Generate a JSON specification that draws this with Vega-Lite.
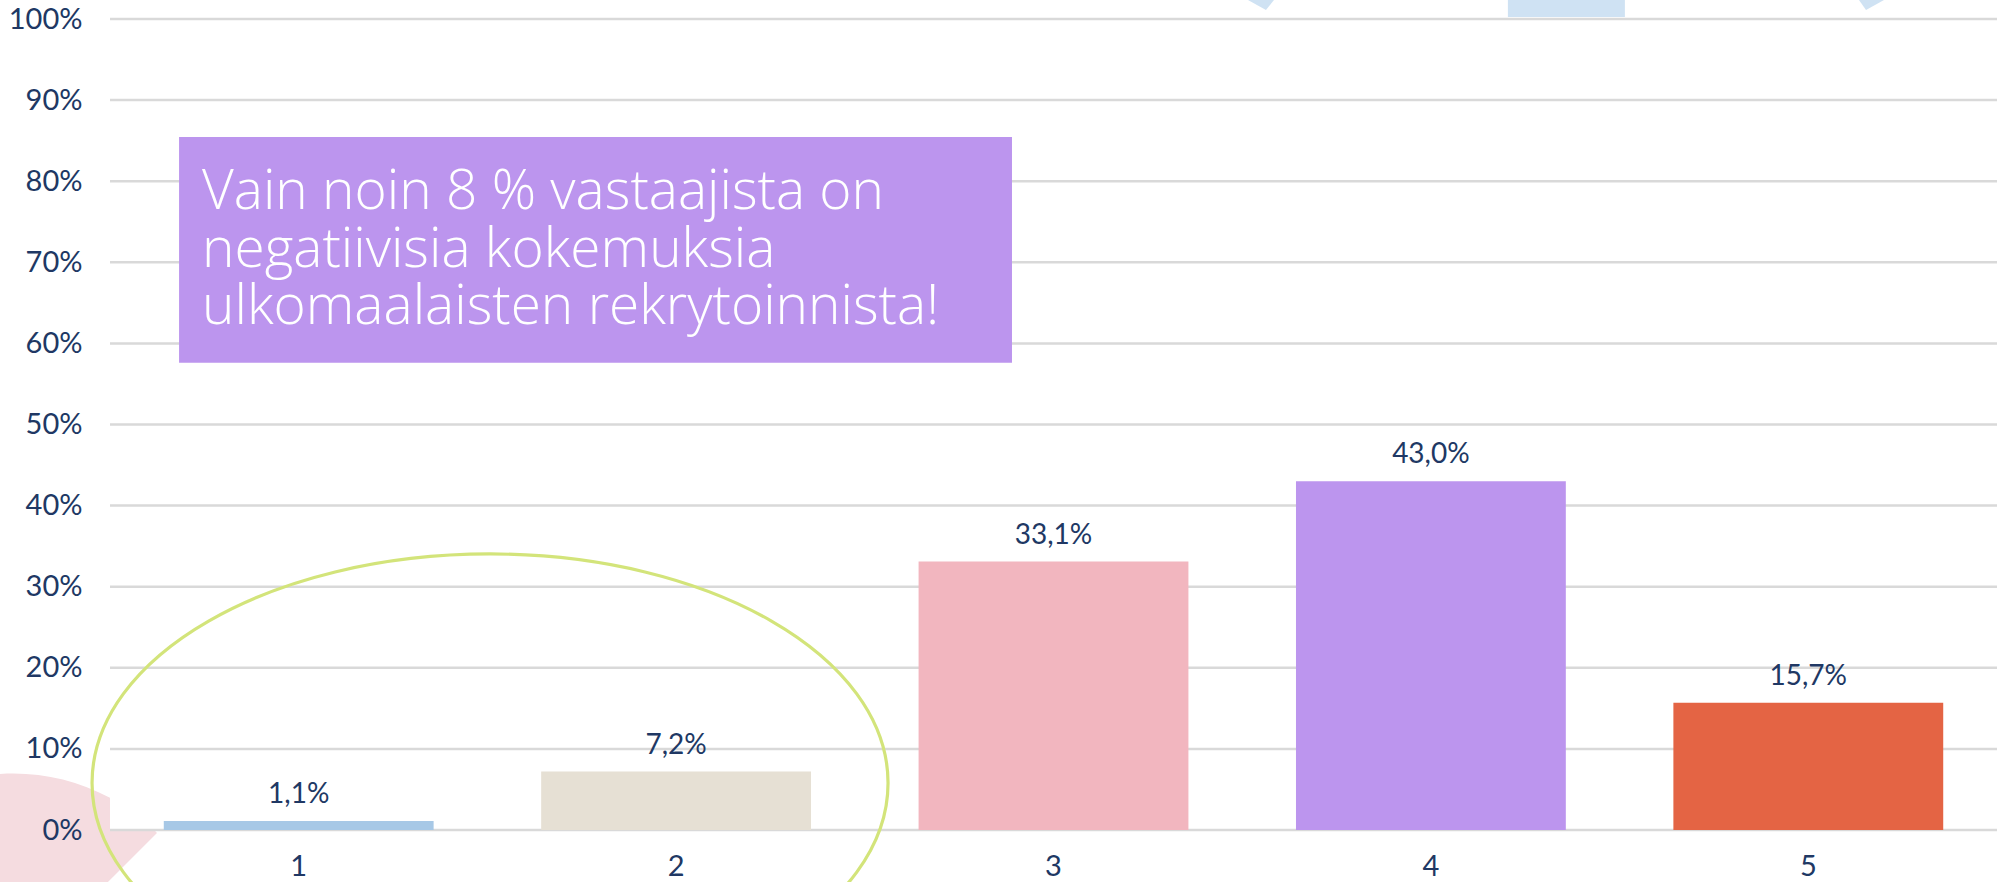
{
  "$schema": "https://vega.github.io/schema/vega-lite/v6.json",
  "width": 1887,
  "height": 811,
  "autosize": "none",
  "padding": {"left": 110, "top": 19, "right": 0, "bottom": 52},
  "background": "white",
  "config": {
    "view": {"stroke": null},
    "font": "Lato",
    "locale": {"number": {"decimal": ",", "thousands": "\u00a0", "grouping": [3], "currency": ["", "\u00a0€"]}}
  },
  "datasets": {
    "bars": [
      {"cat": "1", "value": 0.011},
      {"cat": "2", "value": 0.072},
      {"cat": "3", "value": 0.331},
      {"cat": "4", "value": 0.430},
      {"cat": "5", "value": 0.157}
    ],
    "grid": [
      {"v": 0}, {"v": 0.1}, {"v": 0.2}, {"v": 0.3}, {"v": 0.4}, {"v": 0.5},
      {"v": 0.6}, {"v": 0.7}, {"v": 0.8}, {"v": 0.9}, {"v": 1.0}
    ],
    "pink": [{"x": -0.2557, "y": -0.1806}],
    "topRect": [{"x": 3.704, "x2": 4.014, "y": 1.0025, "y2": 1.03}],
    "triL": [{"x": 3.063, "y": 1.0111}],
    "triR": [{"x": 4.6529, "y": 1.0111}],
    "box": [{"x": 0.183, "x2": 2.39, "y": 0.576, "y2": 0.8545}],
    "note": [{"x": 0.2438, "y": 0.7657, "text": "Vain noin 8 % vastaajista on\nnegatiivisia kokemuksia\nulkomaalaisten rekrytoinnista!"}],
    "ellipse": [{"x": 1.007, "y": 0.058}]
  },
  "layer": [
    {
      "data": {"name": "pink"},
      "mark": {"type": "point", "shape": "M0,0L143.5,-143.5L141.6,-145.5L96.5,-145.5L96.5,-178.6A203,203 0 0,0 -203,0Z", "size": 4, "filled": true, "fill": "#F5DCE0", "strokeWidth": 0, "opacity": 1},
      "encoding": {
        "x": {"field": "x", "type": "quantitative", "scale": {"domain": [0, 5], "nice": false, "zero": false}, "axis": null},
        "y": {"field": "y", "type": "quantitative", "scale": {"domain": [0, 1], "nice": false, "zero": false}, "axis": {"title": null, "format": ".0%", "values": [0, 0.1, 0.2, 0.3, 0.4, 0.5, 0.6, 0.7, 0.8, 0.9, 1], "grid": false, "domain": false, "ticks": false, "labelPadding": 28, "labelFontSize": 29, "labelColor": "#203864", "labelFont": "Lato", "zindex": 1}}
      }
    },
    {
      "data": {"name": "topRect"},
      "mark": {"type": "rect", "fill": "#CFE2F3"},
      "encoding": {
        "x": {"field": "x", "type": "quantitative", "scale": {"domain": [0, 5], "nice": false, "zero": false}, "axis": null},
        "x2": {"field": "x2"},
        "y": {"field": "y", "type": "quantitative", "title": null},
        "y2": {"field": "y2"}
      }
    },
    {
      "data": {"name": "triL"},
      "mark": {"type": "point", "shape": "M0,0L-36,-20L16,-20Z", "size": 4, "filled": true, "fill": "#CFE2F3", "strokeWidth": 0, "opacity": 1},
      "encoding": {
        "x": {"field": "x", "type": "quantitative", "scale": {"domain": [0, 5], "nice": false, "zero": false}, "axis": null},
        "y": {"field": "y", "type": "quantitative", "title": null}
      }
    },
    {
      "data": {"name": "triR"},
      "mark": {"type": "point", "shape": "M0,0L-14,-20L36,-20Z", "size": 4, "filled": true, "fill": "#CFE2F3", "strokeWidth": 0, "opacity": 1},
      "encoding": {
        "x": {"field": "x", "type": "quantitative", "scale": {"domain": [0, 5], "nice": false, "zero": false}, "axis": null},
        "y": {"field": "y", "type": "quantitative", "title": null}
      }
    },
    {
      "data": {"name": "grid"},
      "mark": {"type": "rule", "stroke": "#D9D9D9", "strokeWidth": 2.5},
      "encoding": {
        "y": {"field": "v", "type": "quantitative", "title": null}
      }
    },
    {
      "data": {"name": "bars"},
      "mark": {"type": "bar"},
      "encoding": {
        "x": {"field": "cat", "type": "ordinal", "sort": null, "scale": {"paddingInner": 0.285, "paddingOuter": 0.1425},
              "axis": {"title": null, "labelAngle": 0, "domain": false, "ticks": false, "grid": false, "labelPadding": 22, "labelFontSize": 29, "labelColor": "#203864", "labelFont": "Lato"}},
        "y": {"field": "value", "type": "quantitative", "title": null},
        "color": {"field": "cat", "type": "nominal", "legend": null,
                  "scale": {"domain": ["1", "2", "3", "4", "5"], "range": ["#A7C8E6", "#E6E0D4", "#F2B6BF", "#BC95EE", "#E46444"]}}
      }
    },
    {
      "data": {"name": "bars"},
      "mark": {"type": "text", "dy": -18, "baseline": "alphabetic", "align": "center", "fontSize": 28, "color": "#203864", "font": "Lato"},
      "encoding": {
        "x": {"field": "cat", "type": "ordinal", "sort": null, "scale": {"paddingInner": 0.285, "paddingOuter": 0.1425}, "axis": null},
        "y": {"field": "value", "type": "quantitative", "title": null},
        "text": {"field": "value", "type": "quantitative", "format": ".1%"}
      }
    },
    {
      "data": {"name": "box"},
      "mark": {"type": "rect", "fill": "#BC95EE"},
      "encoding": {
        "x": {"field": "x", "type": "quantitative", "scale": {"domain": [0, 5], "nice": false, "zero": false}, "axis": null},
        "x2": {"field": "x2"},
        "y": {"field": "y", "type": "quantitative", "title": null},
        "y2": {"field": "y2"}
      }
    },
    {
      "data": {"name": "note"},
      "mark": {"type": "text", "align": "left", "baseline": "alphabetic", "fontSize": 55, "fontWeight": 300, "lineHeight": 57.5, "lineBreak": "\n", "color": "white", "font": "Open Sans"},
      "encoding": {
        "x": {"field": "x", "type": "quantitative", "scale": {"domain": [0, 5], "nice": false, "zero": false}, "axis": null},
        "y": {"field": "y", "type": "quantitative", "title": null},
        "text": {"field": "text", "type": "nominal"}
      }
    },
    {
      "data": {"name": "ellipse"},
      "mark": {"type": "point", "shape": "M-398,0A398,229 0 1,0 398,0A398,229 0 1,0 -398,0Z", "size": 4, "filled": false, "fill": null, "stroke": "#D3E47A", "strokeWidth": 3.2, "opacity": 1},
      "encoding": {
        "x": {"field": "x", "type": "quantitative", "scale": {"domain": [0, 5], "nice": false, "zero": false}, "axis": null},
        "y": {"field": "y", "type": "quantitative", "title": null}
      }
    }
  ],
  "resolve": {"scale": {"x": "independent"}, "axis": {"x": "independent"}}
}
